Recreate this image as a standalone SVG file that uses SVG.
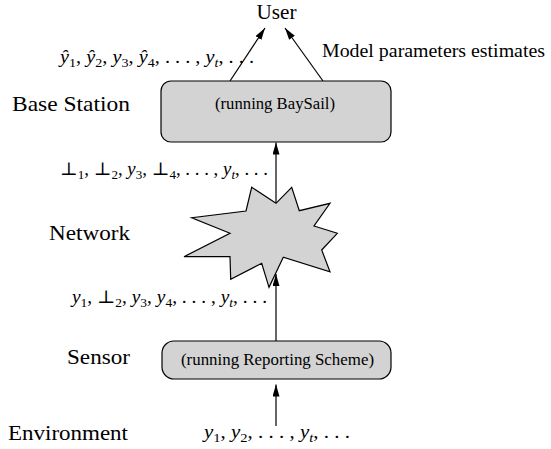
<svg xmlns="http://www.w3.org/2000/svg" width="551" height="449" viewBox="0 0 551 449">
<style>
.lbl{font-family:"Liberation Serif","Times New Roman",serif;font-size:22px;fill:#000}
.box{fill:#d3d3d3;stroke:#000;stroke-width:1.2}
.btxt{font-family:"Liberation Serif","Times New Roman",serif;font-size:16.5px;fill:#000;text-anchor:middle}
.m{font-family:"Liberation Serif","DejaVu Serif",serif;font-size:18px;fill:#000}
.i{font-style:italic}
.s{font-size:12.5px}
.ln{stroke:#000;stroke-width:1.2;fill:none}
</style>
<defs>
<marker id="ah" viewBox="0 0 12 7" refX="12" refY="3.5" markerWidth="12" markerHeight="7" markerUnits="userSpaceOnUse" orient="auto">
<path d="M0,0 L12,3.5 L0,7 Z" fill="#000"/>
</marker>
</defs>
<rect width="551" height="449" fill="#fff"/>

<g id="labels">
<text class="lbl" x="256.5" y="19" textLength="40" lengthAdjust="spacingAndGlyphs">User</text>
<text class="lbl" x="12" y="111" textLength="118" lengthAdjust="spacingAndGlyphs">Base Station</text>
<text class="lbl" x="49" y="240" textLength="81" lengthAdjust="spacingAndGlyphs">Network</text>
<text class="lbl" x="67" y="364" textLength="63" lengthAdjust="spacingAndGlyphs">Sensor</text>
<text class="lbl" x="8" y="440" textLength="120" lengthAdjust="spacingAndGlyphs">Environment</text>
<text class="lbl" style="font-size:19.5px" x="322" y="57" textLength="223" lengthAdjust="spacingAndGlyphs">Model parameters estimates</text>
</g>

<g id="connectors">
<line class="ln" x1="230" y1="81" x2="265" y2="28" marker-end="url(#ah)"/>
<line class="ln" x1="323" y1="81" x2="285" y2="28" marker-end="url(#ah)"/>
<line class="ln" x1="276" y1="203" x2="276" y2="142.5" marker-end="url(#ah)"/>
</g>

<g id="network">
<polygon class="box" points="251.7,187.3 276,203.3 291.7,187.3 299.3,210.7 330,203.3 314,226 337.3,233.3 321.7,250 330,271.7 283.3,257.3 269,287.3 261.7,263.3 230.7,279.3 230,256.7 184,256.7 230,233.3 191.7,217.7 246,211"/>
</g>

<g id="connectors2">
<line class="ln" x1="276" y1="341" x2="276" y2="274" marker-end="url(#ah)"/>
<line class="ln" x1="276" y1="426" x2="276" y2="384.5" marker-end="url(#ah)"/>
</g>

<g id="base-station">
<rect class="box" x="161" y="81" width="230" height="61" rx="10"/>
<text class="btxt" x="275" y="109" textLength="120" lengthAdjust="spacingAndGlyphs">(running BaySail)</text>
</g>

<g id="sensor">
<rect class="box" x="162" y="341" width="229" height="38" rx="12"/>
<text class="btxt" x="277.5" y="365" textLength="193" lengthAdjust="spacingAndGlyphs">(running Reporting Scheme)</text>
</g>

<g id="math">
<text class="m" x="60" y="63" textLength="194" lengthAdjust="spacingAndGlyphs"><tspan class="i">ŷ</tspan><tspan class="s" dy="4">1</tspan><tspan dy="-4">, </tspan><tspan class="i">ŷ</tspan><tspan class="s" dy="4">2</tspan><tspan dy="-4">, </tspan><tspan class="i">y</tspan><tspan class="s" dy="4">3</tspan><tspan dy="-4">, </tspan><tspan class="i">ŷ</tspan><tspan class="s" dy="4">4</tspan><tspan dy="-4">, . . . , </tspan><tspan class="i">y</tspan><tspan class="s i" dy="4">t</tspan><tspan dy="-4">, . . .</tspan></text>
<text class="m" x="60" y="175" textLength="208" lengthAdjust="spacingAndGlyphs"><tspan>⊥</tspan><tspan class="s" dy="4">1</tspan><tspan dy="-4">, ⊥</tspan><tspan class="s" dy="4">2</tspan><tspan dy="-4">, </tspan><tspan class="i">y</tspan><tspan class="s" dy="4">3</tspan><tspan dy="-4">, ⊥</tspan><tspan class="s" dy="4">4</tspan><tspan dy="-4">, . . . , </tspan><tspan class="i">y</tspan><tspan class="s i" dy="4">t</tspan><tspan dy="-4">, . . .</tspan></text>
<text class="m" x="72" y="303" textLength="195" lengthAdjust="spacingAndGlyphs"><tspan class="i">y</tspan><tspan class="s" dy="4">1</tspan><tspan dy="-4">, ⊥</tspan><tspan class="s" dy="4">2</tspan><tspan dy="-4">, </tspan><tspan class="i">y</tspan><tspan class="s" dy="4">3</tspan><tspan dy="-4">, </tspan><tspan class="i">y</tspan><tspan class="s" dy="4">4</tspan><tspan dy="-4">, . . . , </tspan><tspan class="i">y</tspan><tspan class="s i" dy="4">t</tspan><tspan dy="-4">, . . .</tspan></text>
<text class="m" x="204" y="438" textLength="146" lengthAdjust="spacingAndGlyphs"><tspan class="i">y</tspan><tspan class="s" dy="4">1</tspan><tspan dy="-4">, </tspan><tspan class="i">y</tspan><tspan class="s" dy="4">2</tspan><tspan dy="-4">, . . . , </tspan><tspan class="i">y</tspan><tspan class="s i" dy="4">t</tspan><tspan dy="-4">, . . .</tspan></text>
</g>
</svg>
